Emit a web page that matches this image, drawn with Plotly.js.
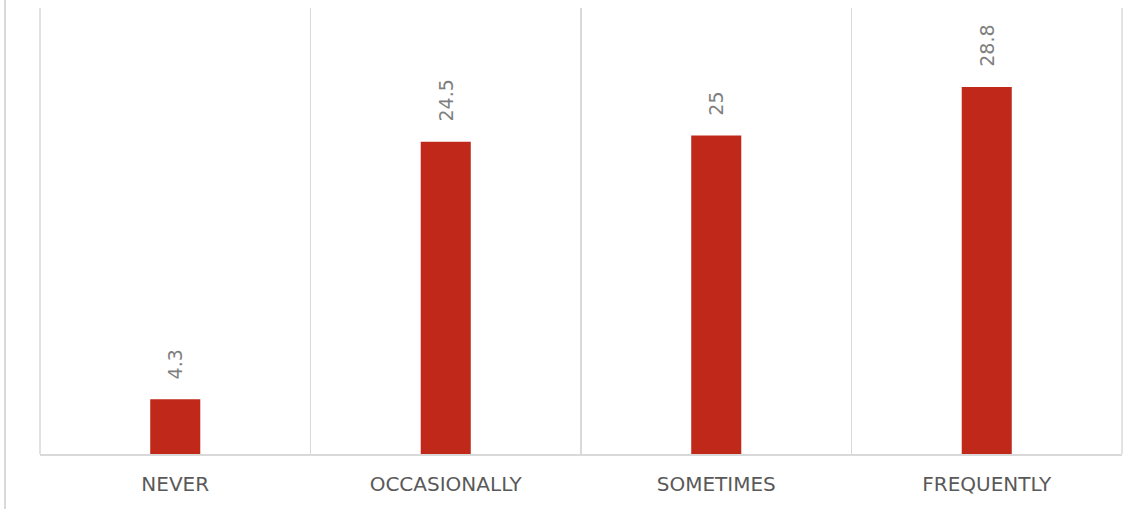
<!DOCTYPE html>
<html>
<head>
<meta charset="utf-8">
<script src="https://cdn.plot.ly/plotly-3.0.1.min.js"></script>
<style>html,body{margin:0;padding:0;background:#fff;}#chart{width:1144px;height:509px;}</style>
</head>
<body>
<div id="chart"></div>
<script>
const categories = ["NEVER", "OCCASIONALLY", "SOMETIMES", "FREQUENTLY"];
const values = [4.3, 24.5, 25, 28.8];
const valueLabels = ["4.3", "24.5", "25", "28.8"];

const trace = {
  type: "bar",
  x: categories,
  y: values,
  marker: {color: "#C0281A"},
  width: 0.185,
  hoverinfo: "none"
};

const annotations = categories.map((c, i) => ({
  x: c,
  y: values[i],
  xref: "x",
  yref: "y",
  text: valueLabels[i],
  textangle: -90,
  showarrow: false,
  xanchor: "center",
  yanchor: "bottom",
  yshift: 18,
  font: {family: "'DejaVu Sans', sans-serif", size: 19, color: "#7f7f7f"}
}));

const layout = {
  width: 1144,
  height: 509,
  margin: {l: 40, r: 22, t: 8, b: 55},
  paper_bgcolor: "#ffffff",
  plot_bgcolor: "#ffffff",
  showlegend: false,
  xaxis: {
    type: "category",
    tickson: "boundaries",
    showgrid: true,
    gridcolor: "#d9d9d9",
    gridwidth: 1.5,
    showline: true,
    linecolor: "#d9d9d9",
    linewidth: 1.5,
    ticks: "",
    ticklabelstandoff: 11,
    tickfont: {family: "'DejaVu Sans', sans-serif", size: 20, color: "#595959"},
    zeroline: false
  },
  yaxis: {
    range: [0, 35],
    showgrid: false,
    showticklabels: false,
    zeroline: false,
    showline: false,
    ticks: ""
  },
  annotations: annotations,
  shapes: [
    {type: "line", xref: "paper", yref: "paper", x0: 0, x1: 0, y0: 0, y1: 1, line: {color: "#d9d9d9", width: 1.5}},
    {type: "line", xref: "paper", yref: "paper", x0: 1, x1: 1, y0: 0, y1: 1, line: {color: "#d9d9d9", width: 1.5}},
    {type: "line", xref: "paper", yref: "paper", x0: -35/1082, x1: -35/1082, y0: -55/446, y1: 8/446 + 1, line: {color: "#d9d9d9", width: 2}}
  ]
};

Plotly.newPlot("chart", [trace], layout, {displayModeBar: false, staticPlot: true});
</script>
</body>
</html>
